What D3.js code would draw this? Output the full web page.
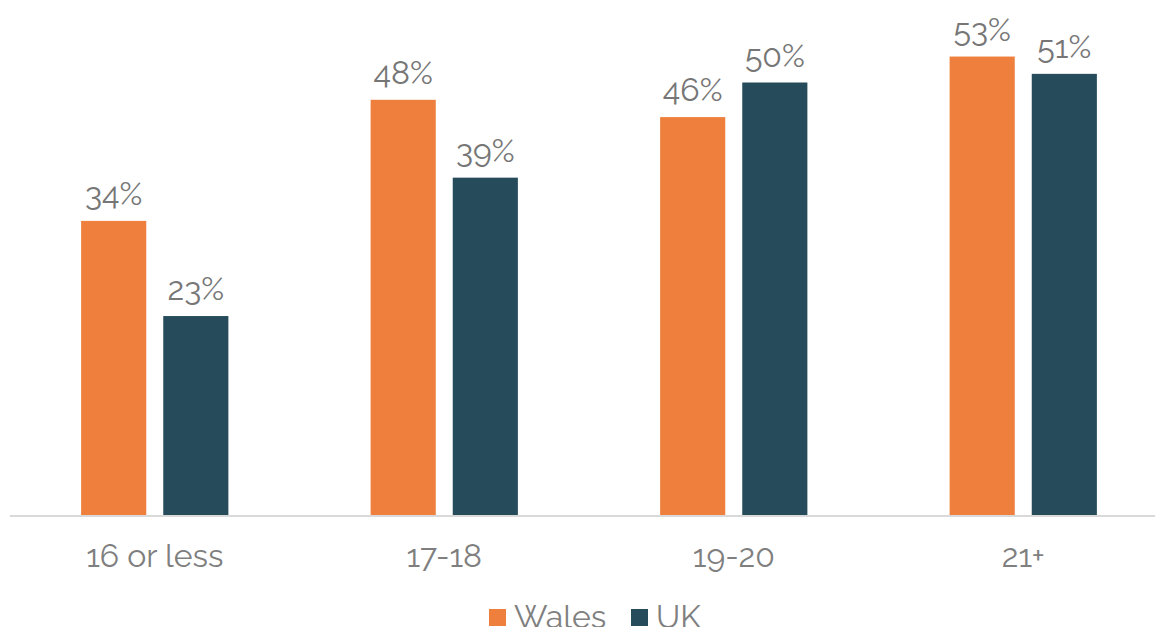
<!DOCTYPE html>
<html>
<head>
<meta charset="utf-8">
<script src="https://cdn.jsdelivr.net/npm/d3@7"></script>
<style>
  html, body { margin: 0; padding: 0; background: #fff; }
  svg { display: block; }
  text { font-family: Raleway, Lato, "Open Sans", sans-serif; }
</style>
</head>
<body>
<svg id="chart" width="1155" height="627"></svg>
<script>
// Share by age group, Wales vs UK (percent)
const categories = ["16 or less", "17-18", "19-20", "21+"];
const seriesNames = ["Wales", "UK"];
const walesValues = [34, 48, 46, 53];
const ukValues = [23, 39, 50, 51];
const seriesColors = ["#EE7F3C", "#264B5B"];

const width = 1155, height = 627;
const svg = d3.select("#chart");

const baseY = 515;
const x0 = d3.scaleBand().domain(categories).range([10, 1168]).paddingInner(0).paddingOuter(0);
const x1 = d3.scaleBand().domain(seriesNames).range([0, x0.bandwidth()]).paddingInner(0.207).paddingOuter(0.866);
const y = d3.scaleLinear().domain([0, 60]).range([baseY, baseY - 8.65 * 60]);

const rows = categories.map((c, i) => ({ cat: c, values: [walesValues[i], ukValues[i]] }));

const groups = svg.append("g").selectAll("g")
  .data(rows).join("g")
  .attr("transform", d => `translate(${x0(d.cat)},0)`);

groups.selectAll("rect")
  .data(d => d.values.map((v, i) => ({ name: seriesNames[i], v, i })))
  .join("rect")
  .attr("x", d => x1(d.name))
  .attr("y", d => y(d.v))
  .attr("width", x1.bandwidth())
  .attr("height", d => y(0) - y(d.v))
  .attr("fill", d => seriesColors[d.i]);

groups.selectAll("text.val")
  .data(d => d.values.map((v, i) => ({ name: seriesNames[i], v, i })))
  .join("text")
  .attr("class", "val")
  .attr("x", d => x1(d.name) + x1.bandwidth() / 2)
  .attr("y", d => y(d.v) - 16)
  .attr("text-anchor", "middle")
  .attr("font-size", 32)
  .attr("fill", "#767676")
  .text(d => d.v + "%");

// Category axis
const xAxis = svg.append("g").attr("transform", `translate(0,${baseY})`)
  .call(d3.axisBottom(x0).tickSize(0).tickPadding(0));
xAxis.select(".domain").remove();
xAxis.append("line")
  .attr("x1", 10).attr("x2", width)
  .attr("y1", 1).attr("y2", 1)
  .attr("stroke", "#D9D9D9").attr("stroke-width", 2);
xAxis.selectAll(".tick text")
  .attr("dy", null)
  .attr("y", 52)
  .attr("font-size", 32)
  .attr("fill", "#7F7F7F")
  .attr("font-family", "Raleway, Lato, 'Open Sans', sans-serif");

// Legend
const legend = svg.append("g").attr("transform", "translate(0,627)");
const legendItems = [
  { name: "Wales", x: 489 },
  { name: "UK", x: 631 }
];
legendItems.forEach((it, i) => {
  legend.append("rect")
    .attr("x", it.x).attr("y", -18)
    .attr("width", 17).attr("height", 17)
    .attr("fill", seriesColors[i]);
  legend.append("text")
    .attr("x", it.x + 25).attr("y", 1)
    .attr("font-size", 32)
    .attr("fill", "#7F7F7F")
    .text(it.name);
});
</script>
</body>
</html>
